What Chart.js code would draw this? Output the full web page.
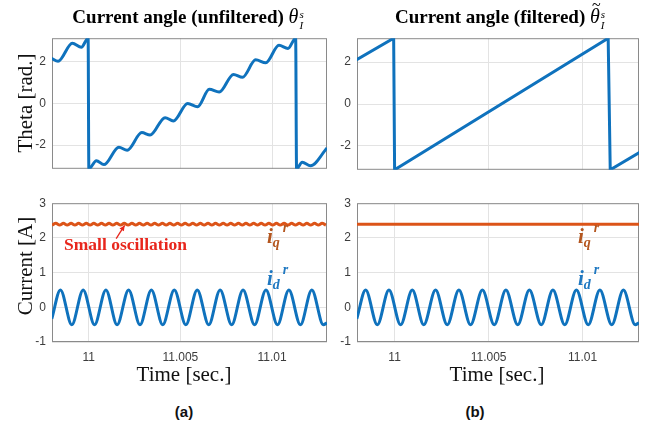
<!DOCTYPE html>
<html>
<head>
<meta charset="utf-8">
<script src="https://cdn.jsdelivr.net/npm/chart.js@4.4.0/dist/chart.umd.min.js"></script>
<style>
body { margin: 0; background: #fff; width: 650px; height: 427px; position: relative; overflow: hidden; }
canvas { position: absolute; }
.t { position: absolute; white-space: nowrap; line-height: 1; }
.ttl { font: bold 19px "Liberation Serif", serif; color: #000; transform: translateX(-50%); }
.ax { font: 21px "Liberation Serif", serif; color: #111; }
.rot { transform: translate(-50%, -50%) rotate(-90deg); }
.hz { transform: translate(-50%, -50%); }
.cap { font: bold 15px "Liberation Sans", sans-serif; color: #111; transform: translateX(-50%); }
.sym { font-style: italic; font-weight: normal; font-size: 20px; position: relative; display: inline-block; }
.tilde { position: absolute; left: 2px; top: -9px; font-size: 16px; font-style: normal; }
.ss { display: inline-block; vertical-align: -6px; font-size: 11px; line-height: 11px; margin-left: 1px;
	font-style: italic; font-weight: normal; }
.ss span { display: block; }
.lab { font: bold italic 21px "Liberation Serif", serif; }
.lab sub { font-size: 14px; vertical-align: -4px; }
.lab sup { font-size: 14px; vertical-align: 11px; margin-left: 3px; }
.note { font: bold 17.5px "Liberation Serif", serif; color: #e8261c; }
</style>
</head>
<body>
<canvas id="angA"></canvas>
<canvas id="angB"></canvas>
<canvas id="curA"></canvas>
<canvas id="curB"></canvas>

<div class="t ttl" style="left:188px; top:5px;">Current angle (unfiltered) <span class="sym">θ</span><span class="ss"><span>s</span><span>I</span></span></div>
<div class="t ttl" style="left:500px; top:5px;">Current angle (filtered) <span class="sym">θ<span class="tilde">~</span></span><span class="ss"><span>s</span><span>I</span></span></div>

<div class="t ax rot" style="left:25px; top:103px;">Theta [rad.]</div>
<div class="t ax rot" style="left:25px; top:266px;">Current [A]</div>
<div class="t ax hz" style="left:184px; top:374px;">Time [sec.]</div>
<div class="t ax hz" style="left:497px; top:374px;">Time [sec.]</div>

<div class="t cap" style="left:184px; top:403px;">(a)</div>
<div class="t cap" style="left:475px; top:403px;">(b)</div>

<div class="t lab" style="left:267px; top:220px; color:#b4561f;">i<sub>q</sub><sup>r</sup></div>
<div class="t lab" style="left:267px; top:262px; color:#1f78c1;">i<sub>d</sub><sup>r</sup></div>
<div class="t lab" style="left:578px; top:220px; color:#b4561f;">i<sub>q</sub><sup>r</sup></div>
<div class="t lab" style="left:578px; top:262px; color:#1f78c1;">i<sub>d</sub><sup>r</sup></div>
<div class="t note" style="left:64px; top:234px;">Small oscillation</div>

<script>
// tick values
var timeTicks = [11, 11.005, 11.01]
var timeLabels = ['11', '11.005', '11.01']
var thetaTicks = [-2, 0, 2]
var currentTicks = [-1, 0, 1, 2, 3]

// unfiltered angle (turning points)
var tThetaRaw = [10.99797, 10.99833, 10.99911, 10.99960, 10.99997, 11.00001, 11.00042, 11.00083, 11.00165, 11.00210,
	11.00290, 11.00335, 11.00417, 11.00462, 11.00540, 11.00594, 11.00658, 11.00712, 11.00790, 11.00839,
	11.00911, 11.00966, 11.01038, 11.01087, 11.01129, 11.01134, 11.01165, 11.01210, 11.01300]
var thetaRaw = [2.17, 2.03, 2.90, 2.71, 3.14, -3.14, -2.75, -2.94, -2.10, -2.25,
	-1.40, -1.52, -0.68, -0.84, 0.00, -0.16, 0.68, 0.55, 1.40, 1.26,
	2.10, 1.96, 2.80, 2.65, 3.14, -3.14, -2.83, -3.00, -2.14]

// filtered angle
var tThetaFilt = [10.99790, 10.99995, 11.00000, 11.01136, 11.01147, 11.01306]
var thetaFilt = [2.07, 3.14, -3.14, 3.14, -3.14, -2.30]

// d-axis current (peaks and troughs)
var tId = [10.99799, 10.99846, 10.99908, 10.99970, 11.00032, 11.00094, 11.00155, 11.00218, 11.00280, 11.00342,
	11.00404, 11.00467, 11.00530, 11.00592, 11.00655, 11.00717, 11.00780, 11.00842, 11.00905, 11.00967,
	11.01030, 11.01092, 11.01155, 11.01217, 11.01280, 11.01300]
var idVals = [-0.33, 0.5, -0.5, 0.5, -0.5, 0.5, -0.5, 0.5, -0.5, 0.5,
	-0.5, 0.5, -0.5, 0.5, -0.5, 0.5, -0.5, 0.5, -0.5, 0.5,
	-0.5, 0.5, -0.5, 0.5, -0.5, -0.45]

// q-axis current, unfiltered (small ripple)
var tIqRaw = [10.99800, 10.99821, 10.99842, 10.99862, 10.99883, 10.99904, 10.99925, 10.99945, 10.99966, 10.99987,
	11.00008, 11.00028, 11.00049, 11.00070, 11.00091, 11.00111, 11.00132, 11.00153, 11.00174, 11.00194,
	11.00215, 11.00236, 11.00257, 11.00277, 11.00298, 11.00319, 11.00340, 11.00360, 11.00381, 11.00402,
	11.00423, 11.00443, 11.00464, 11.00485, 11.00506, 11.00526, 11.00547, 11.00568, 11.00589, 11.00609,
	11.00630, 11.00651, 11.00672, 11.00692, 11.00713, 11.00734, 11.00755, 11.00775, 11.00796, 11.00817,
	11.00838, 11.00858, 11.00879, 11.00900, 11.00921, 11.00941, 11.00962, 11.00983, 11.01004, 11.01024,
	11.01045, 11.01066, 11.01087, 11.01107, 11.01128, 11.01149, 11.01170, 11.01190, 11.01211, 11.01232,
	11.01253, 11.01273, 11.01294]
var iqRaw = [2.37, 2.42, 2.37, 2.42, 2.37, 2.42, 2.37, 2.42, 2.37, 2.42,
	2.37, 2.42, 2.37, 2.42, 2.37, 2.42, 2.37, 2.42, 2.37, 2.42,
	2.37, 2.42, 2.37, 2.42, 2.37, 2.42, 2.37, 2.42, 2.37, 2.42,
	2.37, 2.42, 2.37, 2.42, 2.37, 2.42, 2.37, 2.42, 2.37, 2.42,
	2.37, 2.42, 2.37, 2.42, 2.37, 2.42, 2.37, 2.42, 2.37, 2.42,
	2.37, 2.42, 2.37, 2.42, 2.37, 2.42, 2.37, 2.42, 2.37, 2.42,
	2.37, 2.42, 2.37, 2.42, 2.37, 2.42, 2.37, 2.42, 2.37, 2.42,
	2.37, 2.42, 2.37]

// q-axis current, filtered
var tIqFilt = [10.998, 11.013]
var iqFilt = [2.39, 2.39]

// annotation arrow (data coords)
var arrowFrom = [11.00150, 1.98]
var arrowTo = [11.00196, 2.36]

var blue = '#0f72bd'
var orange = '#dc5418'

function pts(xs, ys) {
	return xs.map(function (x, i) { return { x: x, y: ys[i] } })
}

var framePlugin = {
	id: 'frame',
	beforeDatasetsDraw: function (chart) {
		var a = chart.chartArea, c = chart.ctx
		c.save()
		c.strokeStyle = '#8a8a8a'
		c.lineWidth = 1
		c.strokeRect(a.left + 0.5, a.top + 0.5, a.right - a.left - 1, a.bottom - a.top - 1)
		c.restore()
	}
}

var arrowPlugin = {
	id: 'arrow',
	afterDatasetsDraw: function (chart) {
		if (!chart.options.plugins.arrow || !chart.options.plugins.arrow.show) return
		var xs = chart.scales.x, ys = chart.scales.y, c = chart.ctx
		var x0 = xs.getPixelForValue(arrowFrom[0]), y0 = ys.getPixelForValue(arrowFrom[1])
		var x1 = xs.getPixelForValue(arrowTo[0]), y1 = ys.getPixelForValue(arrowTo[1])
		var ang = Math.atan2(y1 - y0, x1 - x0)
		c.save()
		c.strokeStyle = '#e8261c'
		c.fillStyle = '#e8261c'
		c.lineWidth = 1.3
		c.beginPath(); c.moveTo(x0, y0); c.lineTo(x1, y1); c.stroke()
		c.beginPath()
		c.moveTo(x1, y1)
		c.lineTo(x1 - 6 * Math.cos(ang - 0.45), y1 - 6 * Math.sin(ang - 0.45))
		c.lineTo(x1 - 6 * Math.cos(ang + 0.45), y1 - 6 * Math.sin(ang + 0.45))
		c.closePath(); c.fill()
		c.restore()
	}
}

function makeChart(id, box, datasets, yMin, yMax, yTicks, showX, arrow) {
	var cv = document.getElementById(id)
	var padL = 45, padT = 6, padR = 6, padB = showX ? 26 : 6
	cv.style.left = (box.l - padL) + 'px'
	cv.style.top = (box.t - padT) + 'px'
	cv.width = box.r - box.l + padL + padR
	cv.height = box.b - box.t + padT + padB
	return new Chart(cv.getContext('2d'), {
		type: 'line',
		data: { datasets: datasets },
		options: {
			responsive: false,
			animation: false,
			devicePixelRatio: 1,
			layout: { padding: { left: 0, top: padT, right: padR, bottom: showX ? 0 : 6 } },
			elements: { point: { radius: 0 } },
			plugins: { legend: { display: false }, tooltip: { enabled: false }, arrow: { show: !!arrow } },
			scales: {
				x: {
					type: 'linear', min: 10.998, max: 11.013,
					afterBuildTicks: function (ax) { ax.ticks = timeTicks.map(function (v) { return { value: v } }) },
					afterFit: function (ax) { ax.height = showX ? 26 : 0 },
					grid: { color: '#e3e3e3', drawTicks: false },
					border: { display: false },
					ticks: {
						display: showX, padding: 8, color: '#3c3c3c',
						font: { family: 'Liberation Sans', size: 12 },
						maxRotation: 0,
						callback: function (v) { return timeLabels[timeTicks.indexOf(v)] }
					}
				},
				y: {
					type: 'linear', min: yMin, max: yMax,
					afterBuildTicks: function (ax) { ax.ticks = yTicks.map(function (v) { return { value: v } }) },
					afterFit: function (ax) { ax.width = padL },
					grid: { color: '#e3e3e3', drawTicks: false },
					border: { display: false },
					ticks: { padding: 6, color: '#3c3c3c', font: { family: 'Liberation Sans', size: 12 } }
				}
			}
		},
		plugins: [framePlugin, arrowPlugin]
	})
}

// smooth curves go through the turning points; straight ramps stay straight
function curve(xs, ys, color) {
	return {
		data: pts(xs, ys), borderColor: color, borderWidth: 3,
		cubicInterpolationMode: 'monotone', fill: false
	}
}
function straight(xs, ys, color) {
	return { data: pts(xs, ys), borderColor: color, borderWidth: 3, tension: 0, fill: false }
}

makeChart('angA', { l: 52, t: 31, r: 327, b: 176 },
	[curve(tThetaRaw, thetaRaw, blue)], -Math.PI, Math.PI, thetaTicks, false)
makeChart('angB', { l: 357, t: 31, r: 639, b: 177 },
	[straight(tThetaFilt, thetaFilt, blue)], -Math.PI, Math.PI, thetaTicks, false)
makeChart('curA', { l: 52, t: 196, r: 327, b: 342 },
	[curve(tIqRaw, iqRaw, orange), curve(tId, idVals, blue)], -1, 3, currentTicks, true, true)
makeChart('curB', { l: 357, t: 196, r: 639, b: 342 },
	[straight(tIqFilt, iqFilt, orange), curve(tId, idVals, blue)], -1, 3, currentTicks, true)
</script>
</body>
</html>
